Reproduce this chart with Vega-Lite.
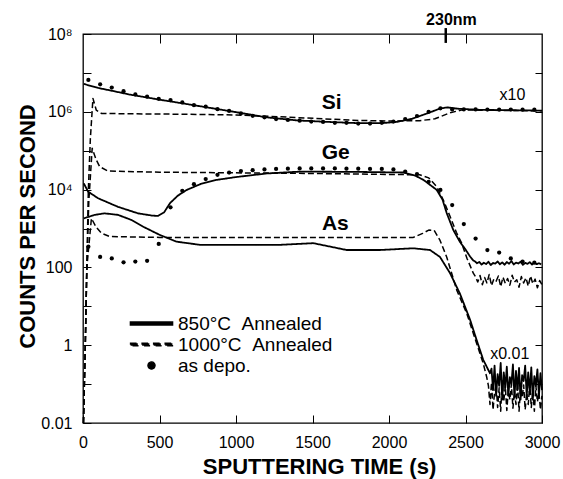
{
  "$schema": "https://vega.github.io/schema/vega-lite/v6.json",
  "width": 459,
  "height": 389,
  "autosize": "none",
  "padding": {"left": 83, "top": 34, "right": 21, "bottom": 56},
  "background": "white",
  "config": {
    "font": "Liberation Sans",
    "view": {"stroke": "black", "strokeWidth": 1.3},
    "axis": {"grid": false, "domain": false, "tickColor": "black", "labelColor": "black", "titleColor": "black", "labelFont": "Liberation Sans", "titleFont": "Liberation Sans", "tickWidth": 1}
  },
  "datasets": {
    "lines": [
      {"e":"Si","c":"850","t":5,"v":5.2e6},{"e":"Si","c":"850","t":100,"v":4.1e6},{"e":"Si","c":"850","t":200,"v":3.4e6},{"e":"Si","c":"850","t":300,"v":2.8e6},{"e":"Si","c":"850","t":400,"v":2.4e6},{"e":"Si","c":"850","t":500,"v":2.05e6},{"e":"Si","c":"850","t":650,"v":1.65e6},{"e":"Si","c":"850","t":800,"v":1.32e6},{"e":"Si","c":"850","t":1000,"v":9.8e5},{"e":"Si","c":"850","t":1200,"v":7.2e5},{"e":"Si","c":"850","t":1400,"v":6.0e5},{"e":"Si","c":"850","t":1600,"v":5.5e5},{"e":"Si","c":"850","t":1800,"v":5.1e5},{"e":"Si","c":"850","t":1950,"v":5.1e5},{"e":"Si","c":"850","t":2050,"v":5.5e5},{"e":"Si","c":"850","t":2150,"v":6.6e5},{"e":"Si","c":"850","t":2250,"v":9.1e5},{"e":"Si","c":"850","t":2330,"v":1.2e6},{"e":"Si","c":"850","t":2380,"v":1.3e6},{"e":"Si","c":"850","t":2450,"v":1.2e6},{"e":"Si","c":"850","t":2600,"v":1.12e6},{"e":"Si","c":"850","t":2800,"v":1.1e6},{"e":"Si","c":"850","t":3000,"v":1.07e6},
      {"e":"Si","c":"1000","t":3,"v":0.01},{"e":"Si","c":"1000","t":15,"v":1},{"e":"Si","c":"1000","t":25,"v":100},{"e":"Si","c":"1000","t":35,"v":1e4},{"e":"Si","c":"1000","t":48,"v":2e5},{"e":"Si","c":"1000","t":65,"v":2.2e6},{"e":"Si","c":"1000","t":87,"v":1.1e6},{"e":"Si","c":"1000","t":120,"v":9.1e5},{"e":"Si","c":"1000","t":300,"v":8.9e5},{"e":"Si","c":"1000","t":600,"v":8.7e5},{"e":"Si","c":"1000","t":1000,"v":8.3e5},{"e":"Si","c":"1000","t":1400,"v":7.1e5},{"e":"Si","c":"1000","t":1800,"v":6.0e5},{"e":"Si","c":"1000","t":2000,"v":5.8e5},{"e":"Si","c":"1000","t":2200,"v":5.9e5},{"e":"Si","c":"1000","t":2300,"v":6.6e5},{"e":"Si","c":"1000","t":2400,"v":9.5e5},{"e":"Si","c":"1000","t":2480,"v":1.12e6},{"e":"Si","c":"1000","t":2600,"v":1.1e6},{"e":"Si","c":"1000","t":3000,"v":1.06e6},
      {"e":"Ge","c":"850","t":5,"v":1.45e4},{"e":"Ge","c":"850","t":33,"v":8.9e3},{"e":"Ge","c":"850","t":98,"v":6.0e3},{"e":"Ge","c":"850","t":229,"v":3.6e3},{"e":"Ge","c":"850","t":360,"v":2.45e3},{"e":"Ge","c":"850","t":450,"v":2.15e3},{"e":"Ge","c":"850","t":490,"v":2.1e3},{"e":"Ge","c":"850","t":530,"v":2.6e3},{"e":"Ge","c":"850","t":569,"v":4.5e3},{"e":"Ge","c":"850","t":620,"v":7.0e3},{"e":"Ge","c":"850","t":678,"v":9.8e3},{"e":"Ge","c":"850","t":770,"v":1.4e4},{"e":"Ge","c":"850","t":874,"v":1.78e4},{"e":"Ge","c":"850","t":1000,"v":2.1e4},{"e":"Ge","c":"850","t":1201,"v":2.6e4},{"e":"Ge","c":"850","t":1418,"v":2.9e4},{"e":"Ge","c":"850","t":1800,"v":2.85e4},{"e":"Ge","c":"850","t":2092,"v":2.75e4},{"e":"Ge","c":"850","t":2170,"v":2.3e4},{"e":"Ge","c":"850","t":2225,"v":1.78e4},{"e":"Ge","c":"850","t":2312,"v":9.8e3},{"e":"Ge","c":"850","t":2350,"v":5.5e3},{"e":"Ge","c":"850","t":2377,"v":2.5e3},{"e":"Ge","c":"850","t":2421,"v":900},{"e":"Ge","c":"850","t":2464,"v":450},{"e":"Ge","c":"850","t":2497,"v":300},{"e":"Ge","c":"850","t":2530,"v":190},{"e":"Ge","c":"850","t":2551,"v":150},
      {"e":"Ge","c":"850","t":2560,"v":145},{"e":"Ge","c":"850","t":2575,"v":128},{"e":"Ge","c":"850","t":2590,"v":138},{"e":"Ge","c":"850","t":2605,"v":118},{"e":"Ge","c":"850","t":2620,"v":132},{"e":"Ge","c":"850","t":2635,"v":122},{"e":"Ge","c":"850","t":2650,"v":140},{"e":"Ge","c":"850","t":2665,"v":115},{"e":"Ge","c":"850","t":2680,"v":130},{"e":"Ge","c":"850","t":2695,"v":125},{"e":"Ge","c":"850","t":2710,"v":142},{"e":"Ge","c":"850","t":2725,"v":120},{"e":"Ge","c":"850","t":2740,"v":135},{"e":"Ge","c":"850","t":2755,"v":117},{"e":"Ge","c":"850","t":2770,"v":138},{"e":"Ge","c":"850","t":2785,"v":124},{"e":"Ge","c":"850","t":2800,"v":146},{"e":"Ge","c":"850","t":2815,"v":119},{"e":"Ge","c":"850","t":2830,"v":133},{"e":"Ge","c":"850","t":2845,"v":126},{"e":"Ge","c":"850","t":2860,"v":140},{"e":"Ge","c":"850","t":2875,"v":116},{"e":"Ge","c":"850","t":2890,"v":131},{"e":"Ge","c":"850","t":2905,"v":123},{"e":"Ge","c":"850","t":2920,"v":137},{"e":"Ge","c":"850","t":2935,"v":118},{"e":"Ge","c":"850","t":2950,"v":134},{"e":"Ge","c":"850","t":2965,"v":121},{"e":"Ge","c":"850","t":2980,"v":128},{"e":"Ge","c":"850","t":2995,"v":120},
      {"e":"Ge","c":"1000","t":3,"v":0.01},{"e":"Ge","c":"1000","t":15,"v":1},{"e":"Ge","c":"1000","t":25,"v":100},{"e":"Ge","c":"1000","t":38,"v":5e3},{"e":"Ge","c":"1000","t":60,"v":1.15e5},{"e":"Ge","c":"1000","t":85,"v":6e4},{"e":"Ge","c":"1000","t":109,"v":3.9e4},{"e":"Ge","c":"1000","t":163,"v":3.0e4},{"e":"Ge","c":"1000","t":500,"v":2.8e4},{"e":"Ge","c":"1000","t":1500,"v":2.6e4},{"e":"Ge","c":"1000","t":2200,"v":2.4e4},{"e":"Ge","c":"1000","t":2260,"v":2.0e4},{"e":"Ge","c":"1000","t":2311,"v":1.2e4},{"e":"Ge","c":"1000","t":2355,"v":5.4e3},{"e":"Ge","c":"1000","t":2400,"v":2.0e3},{"e":"Ge","c":"1000","t":2440,"v":800},{"e":"Ge","c":"1000","t":2475,"v":420},{"e":"Ge","c":"1000","t":2510,"v":170},{"e":"Ge","c":"1000","t":2551,"v":71},
      {"e":"Ge","c":"1000","t":2565,"v":58},{"e":"Ge","c":"1000","t":2580,"v":42},{"e":"Ge","c":"1000","t":2595,"v":62},{"e":"Ge","c":"1000","t":2610,"v":36},{"e":"Ge","c":"1000","t":2625,"v":55},{"e":"Ge","c":"1000","t":2640,"v":40},{"e":"Ge","c":"1000","t":2655,"v":66},{"e":"Ge","c":"1000","t":2670,"v":34},{"e":"Ge","c":"1000","t":2685,"v":50},{"e":"Ge","c":"1000","t":2700,"v":44},{"e":"Ge","c":"1000","t":2715,"v":60},{"e":"Ge","c":"1000","t":2730,"v":32},{"e":"Ge","c":"1000","t":2745,"v":56},{"e":"Ge","c":"1000","t":2760,"v":39},{"e":"Ge","c":"1000","t":2775,"v":52},{"e":"Ge","c":"1000","t":2790,"v":35},{"e":"Ge","c":"1000","t":2805,"v":63},{"e":"Ge","c":"1000","t":2820,"v":42},{"e":"Ge","c":"1000","t":2835,"v":48},{"e":"Ge","c":"1000","t":2850,"v":31},{"e":"Ge","c":"1000","t":2865,"v":58},{"e":"Ge","c":"1000","t":2880,"v":40},{"e":"Ge","c":"1000","t":2895,"v":54},{"e":"Ge","c":"1000","t":2910,"v":33},{"e":"Ge","c":"1000","t":2925,"v":60},{"e":"Ge","c":"1000","t":2940,"v":38},{"e":"Ge","c":"1000","t":2955,"v":50},{"e":"Ge","c":"1000","t":2970,"v":30},{"e":"Ge","c":"1000","t":2985,"v":46},{"e":"Ge","c":"1000","t":3000,"v":36},
      {"e":"As","c":"850","t":5,"v":1820},{"e":"As","c":"850","t":76,"v":2240},{"e":"As","c":"850","t":141,"v":2450},{"e":"As","c":"850","t":229,"v":2240},{"e":"As","c":"850","t":316,"v":1660},{"e":"As","c":"850","t":392,"v":1120},{"e":"As","c":"850","t":503,"v":680},{"e":"As","c":"850","t":610,"v":460},{"e":"As","c":"850","t":765,"v":380},{"e":"As","c":"850","t":981,"v":380},{"e":"As","c":"850","t":1288,"v":380},{"e":"As","c":"850","t":1505,"v":420},{"e":"As","c":"850","t":1723,"v":280},{"e":"As","c":"850","t":1941,"v":280},{"e":"As","c":"850","t":2159,"v":310},{"e":"As","c":"850","t":2268,"v":280},{"e":"As","c":"850","t":2333,"v":186},{"e":"As","c":"850","t":2399,"v":71},{"e":"As","c":"850","t":2464,"v":21},{"e":"As","c":"850","t":2530,"v":4.5},{"e":"As","c":"850","t":2573,"v":1.35},{"e":"As","c":"850","t":2616,"v":0.42},{"e":"As","c":"850","t":2660,"v":0.19},
      {"e":"As","c":"850","t":2670,"v":0.25},{"e":"As","c":"850","t":2680,"v":0.07},{"e":"As","c":"850","t":2690,"v":0.3},{"e":"As","c":"850","t":2700,"v":0.05},{"e":"As","c":"850","t":2710,"v":0.18},{"e":"As","c":"850","t":2720,"v":0.09},{"e":"As","c":"850","t":2730,"v":0.35},{"e":"As","c":"850","t":2740,"v":0.04},{"e":"As","c":"850","t":2750,"v":0.2},{"e":"As","c":"850","t":2760,"v":0.08},{"e":"As","c":"850","t":2770,"v":0.28},{"e":"As","c":"850","t":2780,"v":0.05},{"e":"As","c":"850","t":2790,"v":0.15},{"e":"As","c":"850","t":2800,"v":0.1},{"e":"As","c":"850","t":2810,"v":0.32},{"e":"As","c":"850","t":2820,"v":0.045},{"e":"As","c":"850","t":2830,"v":0.22},{"e":"As","c":"850","t":2840,"v":0.07},{"e":"As","c":"850","t":2850,"v":0.26},{"e":"As","c":"850","t":2860,"v":0.04},{"e":"As","c":"850","t":2870,"v":0.17},{"e":"As","c":"850","t":2880,"v":0.12},{"e":"As","c":"850","t":2890,"v":0.3},{"e":"As","c":"850","t":2900,"v":0.05},{"e":"As","c":"850","t":2910,"v":0.2},{"e":"As","c":"850","t":2920,"v":0.06},{"e":"As","c":"850","t":2930,"v":0.27},{"e":"As","c":"850","t":2940,"v":0.04},{"e":"As","c":"850","t":2950,"v":0.16},{"e":"As","c":"850","t":2960,"v":0.09},{"e":"As","c":"850","t":2970,"v":0.24},{"e":"As","c":"850","t":2980,"v":0.05},{"e":"As","c":"850","t":2990,"v":0.19},{"e":"As","c":"850","t":3000,"v":0.07},
      {"e":"As","c":"1000","t":3,"v":0.01},{"e":"As","c":"1000","t":15,"v":1},{"e":"As","c":"1000","t":25,"v":100},{"e":"As","c":"1000","t":55,"v":1820},{"e":"As","c":"1000","t":85,"v":1100},{"e":"As","c":"1000","t":120,"v":760},{"e":"As","c":"1000","t":174,"v":620},{"e":"As","c":"1000","t":500,"v":590},{"e":"As","c":"1000","t":1500,"v":590},{"e":"As","c":"1000","t":2159,"v":590},{"e":"As","c":"1000","t":2220,"v":750},{"e":"As","c":"1000","t":2260,"v":910},{"e":"As","c":"1000","t":2295,"v":900},{"e":"As","c":"1000","t":2333,"v":500},{"e":"As","c":"1000","t":2377,"v":186},{"e":"As","c":"1000","t":2443,"v":26},{"e":"As","c":"1000","t":2508,"v":6.6},{"e":"As","c":"1000","t":2573,"v":1.1},{"e":"As","c":"1000","t":2616,"v":0.34},{"e":"As","c":"1000","t":2638,"v":0.155},
      {"e":"As","c":"1000","t":2650,"v":0.09},{"e":"As","c":"1000","t":2660,"v":0.03},{"e":"As","c":"1000","t":2670,"v":0.11},{"e":"As","c":"1000","t":2680,"v":0.022},{"e":"As","c":"1000","t":2690,"v":0.06},{"e":"As","c":"1000","t":2700,"v":0.1},{"e":"As","c":"1000","t":2710,"v":0.025},{"e":"As","c":"1000","t":2720,"v":0.08},{"e":"As","c":"1000","t":2730,"v":0.02},{"e":"As","c":"1000","t":2740,"v":0.12},{"e":"As","c":"1000","t":2750,"v":0.035},{"e":"As","c":"1000","t":2760,"v":0.09},{"e":"As","c":"1000","t":2770,"v":0.021},{"e":"As","c":"1000","t":2780,"v":0.07},{"e":"As","c":"1000","t":2790,"v":0.04},{"e":"As","c":"1000","t":2800,"v":0.1},{"e":"As","c":"1000","t":2810,"v":0.024},{"e":"As","c":"1000","t":2820,"v":0.065},{"e":"As","c":"1000","t":2830,"v":0.03},{"e":"As","c":"1000","t":2840,"v":0.11},{"e":"As","c":"1000","t":2850,"v":0.02},{"e":"As","c":"1000","t":2860,"v":0.08},{"e":"As","c":"1000","t":2870,"v":0.045},{"e":"As","c":"1000","t":2880,"v":0.095},{"e":"As","c":"1000","t":2890,"v":0.022},{"e":"As","c":"1000","t":2900,"v":0.06},{"e":"As","c":"1000","t":2910,"v":0.03},{"e":"As","c":"1000","t":2920,"v":0.1},{"e":"As","c":"1000","t":2930,"v":0.025},{"e":"As","c":"1000","t":2940,"v":0.07},{"e":"As","c":"1000","t":2950,"v":0.02},{"e":"As","c":"1000","t":2960,"v":0.09},{"e":"As","c":"1000","t":2970,"v":0.035},{"e":"As","c":"1000","t":2980,"v":0.06},{"e":"As","c":"1000","t":2990,"v":0.022},{"e":"As","c":"1000","t":3000,"v":0.05}
    ],
    "dots": [
      {"e":"Si","c":"depo","t":35,"v":6.6e6},{"e":"Si","c":"depo","t":112,"v":5.1e6},{"e":"Si","c":"depo","t":188,"v":4.2e6},{"e":"Si","c":"depo","t":265,"v":3.4e6},{"e":"Si","c":"depo","t":342,"v":2.8e6},{"e":"Si","c":"depo","t":419,"v":2.45e6},{"e":"Si","c":"depo","t":495,"v":2.15e6},{"e":"Si","c":"depo","t":572,"v":2.0e6},{"e":"Si","c":"depo","t":649,"v":1.74e6},{"e":"Si","c":"depo","t":725,"v":1.48e6},{"e":"Si","c":"depo","t":802,"v":1.35e6},{"e":"Si","c":"depo","t":879,"v":1.17e6},{"e":"Si","c":"depo","t":955,"v":1.05e6},{"e":"Si","c":"depo","t":1032,"v":9.1e5},{"e":"Si","c":"depo","t":1109,"v":7.9e5},{"e":"Si","c":"depo","t":1186,"v":7.2e5},{"e":"Si","c":"depo","t":1262,"v":6.5e5},{"e":"Si","c":"depo","t":1339,"v":6.2e5},{"e":"Si","c":"depo","t":1416,"v":5.9e5},{"e":"Si","c":"depo","t":1492,"v":5.6e5},{"e":"Si","c":"depo","t":1569,"v":5.5e5},{"e":"Si","c":"depo","t":1646,"v":5.2e5},{"e":"Si","c":"depo","t":1722,"v":5.2e5},{"e":"Si","c":"depo","t":1799,"v":5.0e5},{"e":"Si","c":"depo","t":1876,"v":5.0e5},{"e":"Si","c":"depo","t":1953,"v":5.2e5},{"e":"Si","c":"depo","t":2029,"v":5.6e5},{"e":"Si","c":"depo","t":2106,"v":6.5e5},{"e":"Si","c":"depo","t":2183,"v":7.8e5},{"e":"Si","c":"depo","t":2259,"v":1.0e6},{"e":"Si","c":"depo","t":2336,"v":1.23e6},{"e":"Si","c":"depo","t":2413,"v":1.15e6},{"e":"Si","c":"depo","t":2489,"v":1.15e6},{"e":"Si","c":"depo","t":2566,"v":1.15e6},{"e":"Si","c":"depo","t":2643,"v":1.14e6},{"e":"Si","c":"depo","t":2720,"v":1.14e6},{"e":"Si","c":"depo","t":2796,"v":1.14e6},{"e":"Si","c":"depo","t":2873,"v":1.13e6},{"e":"Si","c":"depo","t":2950,"v":1.13e6},
      {"e":"Ge","c":"depo","t":35,"v":340},{"e":"Ge","c":"depo","t":112,"v":186},{"e":"Ge","c":"depo","t":188,"v":170},{"e":"Ge","c":"depo","t":265,"v":135},{"e":"Ge","c":"depo","t":342,"v":141},{"e":"Ge","c":"depo","t":419,"v":148},{"e":"Ge","c":"depo","t":495,"v":400},{"e":"Ge","c":"depo","t":572,"v":3.5e3},{"e":"Ge","c":"depo","t":649,"v":9.3e3},{"e":"Ge","c":"depo","t":725,"v":1.38e4},{"e":"Ge","c":"depo","t":802,"v":1.86e4},{"e":"Ge","c":"depo","t":879,"v":2.4e4},{"e":"Ge","c":"depo","t":955,"v":2.75e4},{"e":"Ge","c":"depo","t":1032,"v":3.0e4},{"e":"Ge","c":"depo","t":1109,"v":3.16e4},{"e":"Ge","c":"depo","t":1186,"v":3.3e4},{"e":"Ge","c":"depo","t":1262,"v":3.4e4},{"e":"Ge","c":"depo","t":1339,"v":3.45e4},{"e":"Ge","c":"depo","t":1416,"v":3.5e4},{"e":"Ge","c":"depo","t":1492,"v":3.5e4},{"e":"Ge","c":"depo","t":1569,"v":3.5e4},{"e":"Ge","c":"depo","t":1646,"v":3.5e4},{"e":"Ge","c":"depo","t":1722,"v":3.45e4},{"e":"Ge","c":"depo","t":1799,"v":3.45e4},{"e":"Ge","c":"depo","t":1876,"v":3.4e4},{"e":"Ge","c":"depo","t":1953,"v":3.4e4},{"e":"Ge","c":"depo","t":2029,"v":3.3e4},{"e":"Ge","c":"depo","t":2106,"v":2.9e4},{"e":"Ge","c":"depo","t":2183,"v":2.5e4},{"e":"Ge","c":"depo","t":2259,"v":1.58e4},{"e":"Ge","c":"depo","t":2336,"v":9.8e3},{"e":"Ge","c":"depo","t":2413,"v":4.0e3},{"e":"Ge","c":"depo","t":2489,"v":1.3e3},{"e":"Ge","c":"depo","t":2566,"v":550},{"e":"Ge","c":"depo","t":2643,"v":280},{"e":"Ge","c":"depo","t":2720,"v":240},{"e":"Ge","c":"depo","t":2796,"v":170},{"e":"Ge","c":"depo","t":2873,"v":141},{"e":"Ge","c":"depo","t":2950,"v":132}
    ],
    "bigLabels": [
      {"txt":"Si","t":1625,"v":1.73e6},{"txt":"Ge","t":1652,"v":8.9e4},{"txt":"As","t":1649,"v":1270}
    ],
    "topLabel": [{"txt":"230nm","t":2408,"v":2.29e8}],
    "factorLabels": [{"txt":"x10","t":2807,"v":2.75e6},{"txt":"x0.01","t":2789,"v":0.6}],
    "depthMark": [{"t":2371,"v":1.42e8,"v2":5.9e7}]
  },
  "layer": [
    {
      "data": {"name": "lines"},
      "mark": {"type": "line", "color": "black", "strokeJoin": "round"},
      "encoding": {
        "x": {"field": "t", "type": "quantitative", "scale": {"domain": [0, 3000], "nice": false, "zero": false},
          "axis": {"orient": "bottom", "values": [0, 500, 1000, 1500, 2000, 2500, 3000], "format": "d", "tickSize": -8, "labelFontSize": 16, "labelPadding": 19, "labelFlush": false, "labelOverlap": false, "title": "SPUTTERING TIME (s)", "titleFontSize": 22, "titleFontWeight": "bold", "titleBaseline": "alphabetic", "titleY": 50, "titleX": 236}},
        "y": {"field": "v", "type": "quantitative", "scale": {"type": "log", "domain": [0.01, 100000000], "nice": false},
          "axis": {"orient": "left", "values": [0.01, 0.1, 1, 10, 100, 1000, 10000, 100000, 1000000, 10000000, 100000000], "tickSize": -8, "labelFontSize": 16, "labelPadding": 19, "labelFlush": false, "labelOverlap": false, "labelBaseline": "middle",
            "labelExpr": "datum.value == 100000000 ? '10⁸' : datum.value == 1000000 ? '10⁶' : datum.value == 10000 ? '10⁴' : datum.value == 100 ? '100' : datum.value == 1 ? '1' : datum.value == 0.01 ? '0.01' : ''",
            "title": "COUNTS PER SECOND", "titleFontSize": 22, "titleFontWeight": "bold", "titleAngle": -90, "titleBaseline": "middle", "titleAlign": "center", "titleX": -55.5, "titleY": 192}},
        "detail": [{"field": "e"}, {"field": "c"}],
        "strokeDash": {"field": "c", "type": "nominal", "scale": {"domain": ["850", "1000", "depo"], "range": [[1, 0], [6, 3], [1, 0]]},
          "legend": {"title": null, "orient": "none", "legendX": 59, "legendY": 280, "padding": 0, "labelFontSize": 19, "labelColor": "black", "labelOffset": 17, "rowPadding": 1, "symbolSize": 52, "symbolStrokeWidth": 0, "symbolFillColor": "black", "symbolOpacity": 1,
            "labelExpr": "datum.label == '850' ? '850°C\u00a0\u00a0Annealed' : datum.label == '1000' ? '1000°C\u00a0\u00a0Annealed' : 'as depo.'"}},
        "strokeWidth": {"field": "c", "type": "ordinal", "scale": {"domain": ["850", "1000", "depo"], "range": [1.8, 1.2, 1]}, "legend": null}
      }
    },
    {
      "data": {"name": "dots"},
      "mark": {"type": "point", "filled": true, "color": "black", "size": 18, "opacity": 1},
      "encoding": {
        "x": {"field": "t", "type": "quantitative", "axis": {"orient": "top", "values": [500, 1000, 1500, 2000, 2500], "tickSize": -9, "labels": false, "title": null}},
        "y": {"field": "v", "type": "quantitative", "axis": {"orient": "right", "values": [0.1, 1, 10, 100, 1000, 10000, 100000, 1000000, 10000000], "tickSize": -7, "labels": false, "title": null}},
        "shape": {"field": "c", "type": "nominal", "scale": {"domain": ["850", "1000", "depo"], "range": ["M-5.8,-0.4H5.8V0.4H-5.8Z", "M-5.8,-0.35H-3.8V0.35H-5.8ZM-2.6,-0.35H-0.6V0.35H-2.6ZM0.6,-0.35H2.6V0.35H0.6ZM3.8,-0.35H5.8V0.35H3.8Z", "circle"]},
          "legend": {"title": null, "orient": "none", "legendX": 59, "legendY": 280, "padding": 0, "labelFontSize": 19, "labelColor": "black", "labelOffset": 17, "rowPadding": 1, "symbolSize": 52, "symbolStrokeWidth": 0, "symbolFillColor": "black", "symbolOpacity": 1,
            "labelExpr": "datum.label == '850' ? '850°C\u00a0\u00a0Annealed' : datum.label == '1000' ? '1000°C\u00a0\u00a0Annealed' : 'as depo.'"}}
      }
    },
    {
      "data": {"name": "bigLabels"},
      "mark": {"type": "text", "fontSize": 21, "fontWeight": "bold", "color": "black", "align": "center", "baseline": "middle"},
      "encoding": {
        "x": {"field": "t", "type": "quantitative", "axis": null},
        "y": {"field": "v", "type": "quantitative", "axis": null},
        "text": {"field": "txt"}
      }
    },
    {
      "data": {"name": "topLabel"},
      "mark": {"type": "text", "fontSize": 16, "fontWeight": "bold", "color": "black", "align": "center", "baseline": "middle"},
      "encoding": {
        "x": {"field": "t", "type": "quantitative", "axis": null},
        "y": {"field": "v", "type": "quantitative", "axis": null},
        "text": {"field": "txt"}
      }
    },
    {
      "data": {"name": "factorLabels"},
      "mark": {"type": "text", "fontSize": 16, "color": "black", "align": "center", "baseline": "middle"},
      "encoding": {
        "x": {"field": "t", "type": "quantitative", "axis": null},
        "y": {"field": "v", "type": "quantitative", "axis": null},
        "text": {"field": "txt"}
      }
    },
    {
      "data": {"name": "depthMark"},
      "mark": {"type": "rule", "color": "black", "strokeWidth": 2.5},
      "encoding": {
        "x": {"field": "t", "type": "quantitative", "axis": null},
        "y": {"field": "v", "type": "quantitative", "axis": null},
        "y2": {"field": "v2"}
      }
    }
  ],
  "resolve": {"axis": {"x": "independent", "y": "independent"}}
}
